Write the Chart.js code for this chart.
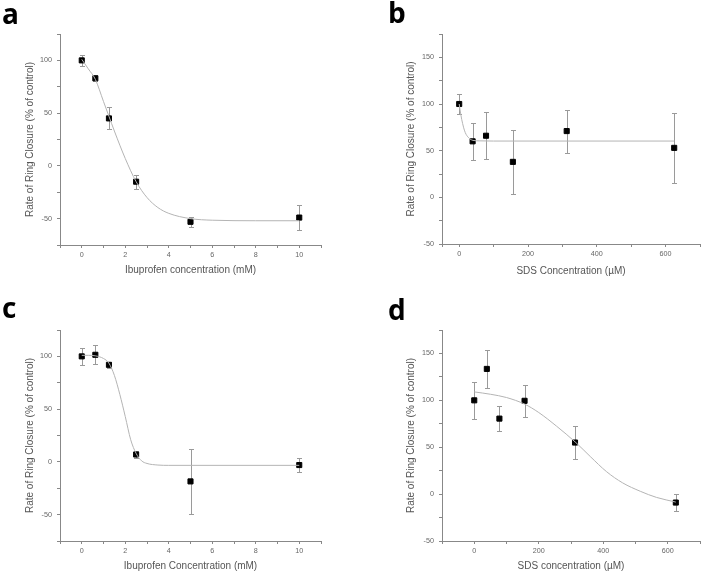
<!DOCTYPE html>
<html>
<head>
<meta charset="utf-8">
<script src="https://cdn.jsdelivr.net/npm/chart.js@4.4.1/dist/chart.umd.min.js"></script>
<style>
  html, body { margin: 0; padding: 0; background: #fff; }
  #fig { position: relative; width: 705px; height: 574px; overflow: hidden; }
  #fig canvas { position: absolute; }
  .tag { position: absolute; font: bold 28px "Open Sans", sans-serif; line-height: 28px; color: #000; }
</style>
</head>
<body>
<div id="fig">
  <canvas id="chartA" width="352" height="287" style="left:0;top:0"></canvas>
  <canvas id="chartB" width="353" height="287" style="left:352px;top:0"></canvas>
  <canvas id="chartC" width="352" height="287" style="left:0;top:287px"></canvas>
  <canvas id="chartD" width="353" height="287" style="left:352px;top:287px"></canvas>
  <div class="tag" style="left:2px;top:-1px">a</div>
  <div class="tag" style="left:388px;top:-2px">b</div>
  <div class="tag" style="left:2px;top:293px">c</div>
  <div class="tag" style="left:388px;top:295px">d</div>
</div>
<script>
// ibuprofen panels (a, c)
const ibuConc = [0, 0.625, 1.25, 2.5, 5, 10];
const aRate = [100, 83, 45, -15, -53, -49];
const aErr = [5, 3, 10.5, 6.5, 4.5, 12];
const aFitX = [0, 0.3, 0.625, 1, 1.25, 1.5, 2, 2.5, 3, 3.5, 4, 5, 6, 8, 10];
const aFitY = [101, 92, 82, 61, 47, 33, 7, -15, -30, -39.5, -45, -50, -51.5, -52, -52];

const cRate = [100, 101.5, 92, 7, -18.5, -3];
const cErr = [8, 9, 3, 3, 30.5, 7];
const cFitX = [0, 0.3, 0.625, 1, 1.25, 1.5, 1.75, 2, 2.25, 2.5, 2.75, 3, 3.5, 4, 10];
const cFitY = [101, 101, 100.5, 98, 93.5, 82, 64, 43, 21, 8, 1, -1.5, -3, -3.3, -3.3];

// SDS panels (b, d)
const sdsConc = [0, 39, 78, 156, 312.5, 625];
const bRate = [100, 60, 66, 38, 71, 53];
const bErr = [11, 20, 25, 34, 23, 37.5];
const bFitX = [0, 5, 10, 15, 20, 30, 40, 60, 100, 625];
const bFitY = [100, 88, 79, 72, 67.5, 63, 61, 60.5, 60.3, 60.3];

const dRate = [100, 133.5, 80.5, 99.5, 55, -9];
const dErr = [20, 20, 13.5, 17, 18, 9];
const dFitX = [0, 50, 100, 156, 200, 255, 315, 360, 410, 460, 515, 565, 625];
const dFitY = [109, 106.5, 103, 96, 87, 72.5, 55, 40, 24, 12, 3, -3.5, -8.5];

// tick labels
const ibuTicks = [0, 2, 4, 6, 8, 10];
const sdsTicks = [0, 200, 400, 600];
const ibuRateTicks = [-50, 0, 50, 100];
const sdsRateTicks = [-50, 0, 50, 100, 150];

const rateTitle = 'Rate of Ring Closure (% of control)';

// draws vertical error bars under the markers
const errorBars = {
  id: 'errorBars',
  beforeDatasetsDraw(chart) {
    const { ctx, scales: { x, y } } = chart;
    const ds = chart.data.datasets[1];
    ctx.save();
    ctx.strokeStyle = '#9a9a9a';
    ctx.lineWidth = 1;
    ds.data.forEach((p, i) => {
      const e = ds.errors[i];
      const px = Math.round(x.getPixelForValue(p.x)) + 0.5;
      const top = Math.round(y.getPixelForValue(p.y + e)) + 0.5;
      const bot = Math.round(y.getPixelForValue(p.y - e)) + 0.5;
      ctx.beginPath();
      ctx.moveTo(px, top); ctx.lineTo(px, bot);
      ctx.moveTo(px - 2.5, top); ctx.lineTo(px + 2.5, top);
      ctx.moveTo(px - 2.5, bot); ctx.lineTo(px + 2.5, bot);
      ctx.stroke();
    });
    ctx.restore();
  }
};

// tick marks at every step inside the axis range, plus both ends
function stepTicks(min, max, step) {
  const out = [min];
  for (let v = Math.ceil(min / step) * step; v <= max; v += step) {
    if (v > min) out.push(v);
  }
  if (out[out.length - 1] < max) out.push(max);
  return out.map(value => ({ value }));
}

const tickFont = { family: '"Liberation Sans", Arial, sans-serif', size: 7.2 };
const titleFont = { family: '"Liberation Sans", Arial, sans-serif', size: 10 };
const axisGrid = { drawOnChartArea: false, drawTicks: true, tickLength: 3, color: '#888' };
const axisBorder = { display: true, color: '#888', width: 1 };

function makePanel(id, o) {
  const fit = o.fitX.map((x, i) => ({ x, y: o.fitY[i] }));
  const pts = o.conc.map((x, i) => ({ x, y: o.rate[i] }));
  return new Chart(document.getElementById(id), {
    type: 'scatter',
    data: {
      datasets: [
        { data: fit, showLine: true, borderColor: '#b4b4b4', borderWidth: 1, pointRadius: 0,
          cubicInterpolationMode: 'monotone', fill: false },
        { data: pts, errors: o.err, pointStyle: 'rect', pointRadius: 3.6,
          backgroundColor: '#000', borderColor: '#000', borderWidth: 1 }
      ]
    },
    options: {
      responsive: false,
      animation: false,
      devicePixelRatio: 1,
      layout: { padding: { top: o.top, right: o.right, left: 0, bottom: 0 } },
      plugins: { legend: { display: false }, tooltip: { enabled: false } },
      scales: {
        x: {
          type: 'linear', min: o.xMin, max: o.xMax,
          afterBuildTicks: s => { s.ticks = stepTicks(o.xMin, o.xMax, o.xStep); },
          afterFit: s => { s.height = o.xHeight; },
          ticks: { autoSkip: false, maxRotation: 0, padding: 3, color: '#666', font: tickFont,
                   callback: v => o.xLabels.includes(v) ? String(v) : '' },
          grid: axisGrid, border: axisBorder,
          title: { display: true, text: o.xTitle, color: '#555', font: titleFont, padding: { top: 0, bottom: o.xTitlePad } }
        },
        y: {
          type: 'linear', min: o.yMin, max: o.yMax,
          afterBuildTicks: s => { s.ticks = stepTicks(o.yMin, o.yMax, 25); },
          afterFit: s => { s.width = o.yWidth; },
          ticks: { autoSkip: false, padding: 5, color: '#666', font: tickFont,
                   callback: v => o.yLabels.includes(v) ? String(v) : '' },
          grid: axisGrid, border: axisBorder,
          title: { display: true, text: rateTitle, color: '#555', font: titleFont, padding: { top: o.yTitlePad, bottom: 0 } }
        }
      }
    },
    plugins: [errorBars]
  });
}

makePanel('chartA', {
  conc: ibuConc, rate: aRate, err: aErr, fitX: aFitX, fitY: aFitY,
  xMin: -1, xMax: 11, xStep: 1, xLabels: ibuTicks, xTitle: 'Ibuprofen concentration (mM)',
  yMin: -75, yMax: 125, yLabels: ibuRateTicks,
  top: 34, right: 31, xHeight: 42, yWidth: 60, xTitlePad: 11, yTitlePad: 24
});
makePanel('chartB', {
  conc: sdsConc, rate: bRate, err: bErr, fitX: bFitX, fitY: bFitY,
  xMin: -50, xMax: 700, xStep: 100, xLabels: sdsTicks, xTitle: 'SDS Concentration (\u00b5M)',
  yMin: -50, yMax: 175, yLabels: sdsRateTicks,
  top: 34, right: 3, xHeight: 43, yWidth: 90, xTitlePad: 10, yTitlePad: 53
});
makePanel('chartC', {
  conc: ibuConc, rate: cRate, err: cErr, fitX: cFitX, fitY: cFitY,
  xMin: -1, xMax: 11, xStep: 1, xLabels: ibuTicks, xTitle: 'Ibuprofen Concentration (mM)',
  yMin: -75, yMax: 125, yLabels: ibuRateTicks,
  top: 43, right: 31, xHeight: 33, yWidth: 60, xTitlePad: 2, yTitlePad: 24
});
makePanel('chartD', {
  conc: sdsConc, rate: dRate, err: dErr, fitX: dFitX, fitY: dFitY,
  xMin: -100, xMax: 700, xStep: 100, xLabels: sdsTicks, xTitle: 'SDS concentration (\u00b5M)',
  yMin: -50, yMax: 175, yLabels: sdsRateTicks,
  top: 43, right: 3, xHeight: 33, yWidth: 90, xTitlePad: 2, yTitlePad: 53
});
</script>
</body>
</html>
